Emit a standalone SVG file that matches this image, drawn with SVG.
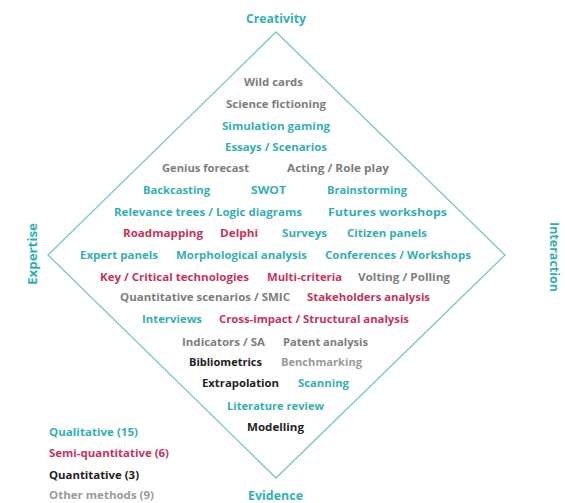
<svg xmlns="http://www.w3.org/2000/svg" width="565" height="503" viewBox="0 0 565 503">
<style>
text{font-family:"Open Sans","Liberation Sans",sans-serif;font-weight:700;font-size:11px}
.t{fill:#34afb0}
.r{fill:#c3345b}
.g{fill:#7d7d7d}
.l{fill:#9a9a9a}
.k{fill:#222222}
.ax{fill:#34afb0;font-size:12.5px;font-weight:700}
.frame{fill:none;stroke:#7fc5c5;stroke-width:1.3}
</style>
<rect width="565" height="503" fill="#ffffff"/>
<g id="connectors">
<polygon class="frame" points="276,32 505,255 276,478 48,255"/>
</g>
<g id="axis-creativity"><text class="ax" x="246" y="23" textLength="60" lengthAdjust="spacingAndGlyphs">Creativity</text></g>
<g id="axis-evidence"><text class="ax" x="248" y="500" textLength="55" lengthAdjust="spacingAndGlyphs">Evidence</text></g>
<g id="axis-expertise"><text class="ax" transform="translate(37,254) rotate(-90)" text-anchor="middle" textLength="62" lengthAdjust="spacingAndGlyphs">Expertise</text></g>
<g id="axis-interaction"><text class="ax" transform="translate(550,257) rotate(90)" text-anchor="middle" textLength="70" lengthAdjust="spacingAndGlyphs">Interaction</text></g>

<g id="wild-cards"><text class="g" x="244" y="86" textLength="59" lengthAdjust="spacingAndGlyphs">Wild cards</text></g>
<g id="science-fictioning"><text class="g" x="226" y="108" textLength="100" lengthAdjust="spacingAndGlyphs">Science fictioning</text></g>
<g id="simulation-gaming"><text class="t" x="222" y="130" textLength="108" lengthAdjust="spacingAndGlyphs">Simulation gaming</text></g>
<g id="essays-scenarios"><text class="t" x="225" y="151" textLength="102" lengthAdjust="spacingAndGlyphs">Essays / Scenarios</text></g>

<g id="genius-forecast"><text class="g" x="162" y="172" textLength="87" lengthAdjust="spacingAndGlyphs">Genius forecast</text></g>
<g id="acting-role-play"><text class="g" x="287" y="172" textLength="102" lengthAdjust="spacingAndGlyphs">Acting / Role play</text></g>

<g id="backcasting"><text class="t" x="143" y="194" textLength="67" lengthAdjust="spacingAndGlyphs">Backcasting</text></g>
<g id="swot"><text class="t" x="251" y="194" textLength="35" lengthAdjust="spacingAndGlyphs">SWOT</text></g>
<g id="brainstorming"><text class="t" x="327" y="194" textLength="80" lengthAdjust="spacingAndGlyphs">Brainstorming</text></g>

<g id="relevance-trees"><text class="t" x="114" y="216" textLength="188" lengthAdjust="spacingAndGlyphs">Relevance trees / Logic diagrams</text></g>
<g id="futures-workshops"><text class="t" x="328" y="216" textLength="119" lengthAdjust="spacingAndGlyphs">Futures workshops</text></g>

<g id="roadmapping"><text class="r" x="123" y="237" textLength="80" lengthAdjust="spacingAndGlyphs">Roadmapping</text></g>
<g id="delphi"><text class="r" x="220" y="237" textLength="38" lengthAdjust="spacingAndGlyphs">Delphi</text></g>
<g id="surveys"><text class="t" x="282" y="237" textLength="45" lengthAdjust="spacingAndGlyphs">Surveys</text></g>
<g id="citizen-panels"><text class="t" x="347" y="237" textLength="80" lengthAdjust="spacingAndGlyphs">Citizen panels</text></g>

<g id="expert-panels"><text class="t" x="80" y="259" textLength="78" lengthAdjust="spacingAndGlyphs">Expert panels</text></g>
<g id="morphological-analysis"><text class="t" x="176" y="259" textLength="131" lengthAdjust="spacingAndGlyphs">Morphological analysis</text></g>
<g id="conferences-workshops"><text class="t" x="325" y="259" textLength="146" lengthAdjust="spacingAndGlyphs">Conferences / Workshops</text></g>

<g id="key-critical-technologies"><text class="r" x="100" y="281" textLength="149" lengthAdjust="spacingAndGlyphs">Key / Critical technologies</text></g>
<g id="multi-criteria"><text class="r" x="267" y="281" textLength="75" lengthAdjust="spacingAndGlyphs">Multi-criteria</text></g>
<g id="volting-polling"><text class="g" x="358" y="281" textLength="92" lengthAdjust="spacingAndGlyphs">Volting / Polling</text></g>

<g id="quantitative-scenarios"><text class="g" x="120" y="301" textLength="170" lengthAdjust="spacingAndGlyphs">Quantitative scenarios / SMIC</text></g>
<g id="stakeholders-analysis"><text class="r" x="307" y="301" textLength="123" lengthAdjust="spacingAndGlyphs">Stakeholders analysis</text></g>

<g id="interviews"><text class="t" x="142" y="323" textLength="60" lengthAdjust="spacingAndGlyphs">Interviews</text></g>
<g id="cross-impact"><text class="r" x="219" y="323" textLength="190" lengthAdjust="spacingAndGlyphs">Cross-impact / Structural analysis</text></g>

<g id="indicators-sa"><text class="g" x="182" y="346" textLength="83" lengthAdjust="spacingAndGlyphs">Indicators / SA</text></g>
<g id="patent-analysis"><text class="g" x="283" y="346" textLength="85" lengthAdjust="spacingAndGlyphs">Patent analysis</text></g>

<g id="bibliometrics"><text class="k" x="189" y="366" textLength="73" lengthAdjust="spacingAndGlyphs">Bibliometrics</text></g>
<g id="benchmarking"><text class="l" x="281" y="366" textLength="81" lengthAdjust="spacingAndGlyphs">Benchmarking</text></g>

<g id="extrapolation"><text class="k" x="202" y="387" textLength="77" lengthAdjust="spacingAndGlyphs">Extrapolation</text></g>
<g id="scanning"><text class="t" x="298" y="387" textLength="51" lengthAdjust="spacingAndGlyphs">Scanning</text></g>

<g id="literature-review"><text class="t" x="227" y="410" textLength="97" lengthAdjust="spacingAndGlyphs">Literature review</text></g>
<g id="modelling"><text class="k" x="247" y="431" textLength="57" lengthAdjust="spacingAndGlyphs">Modelling</text></g>

<g id="legend">
<text class="t" x="49" y="436" textLength="89" lengthAdjust="spacingAndGlyphs">Qualitative (15)</text>
<text class="r" x="49" y="457" textLength="120" lengthAdjust="spacingAndGlyphs">Semi-quantitative (6)</text>
<text class="k" x="49" y="479" textLength="90" lengthAdjust="spacingAndGlyphs">Quantitative (3)</text>
<text class="l" x="49" y="499" textLength="105" lengthAdjust="spacingAndGlyphs">Other methods (9)</text>
</g>
</svg>
